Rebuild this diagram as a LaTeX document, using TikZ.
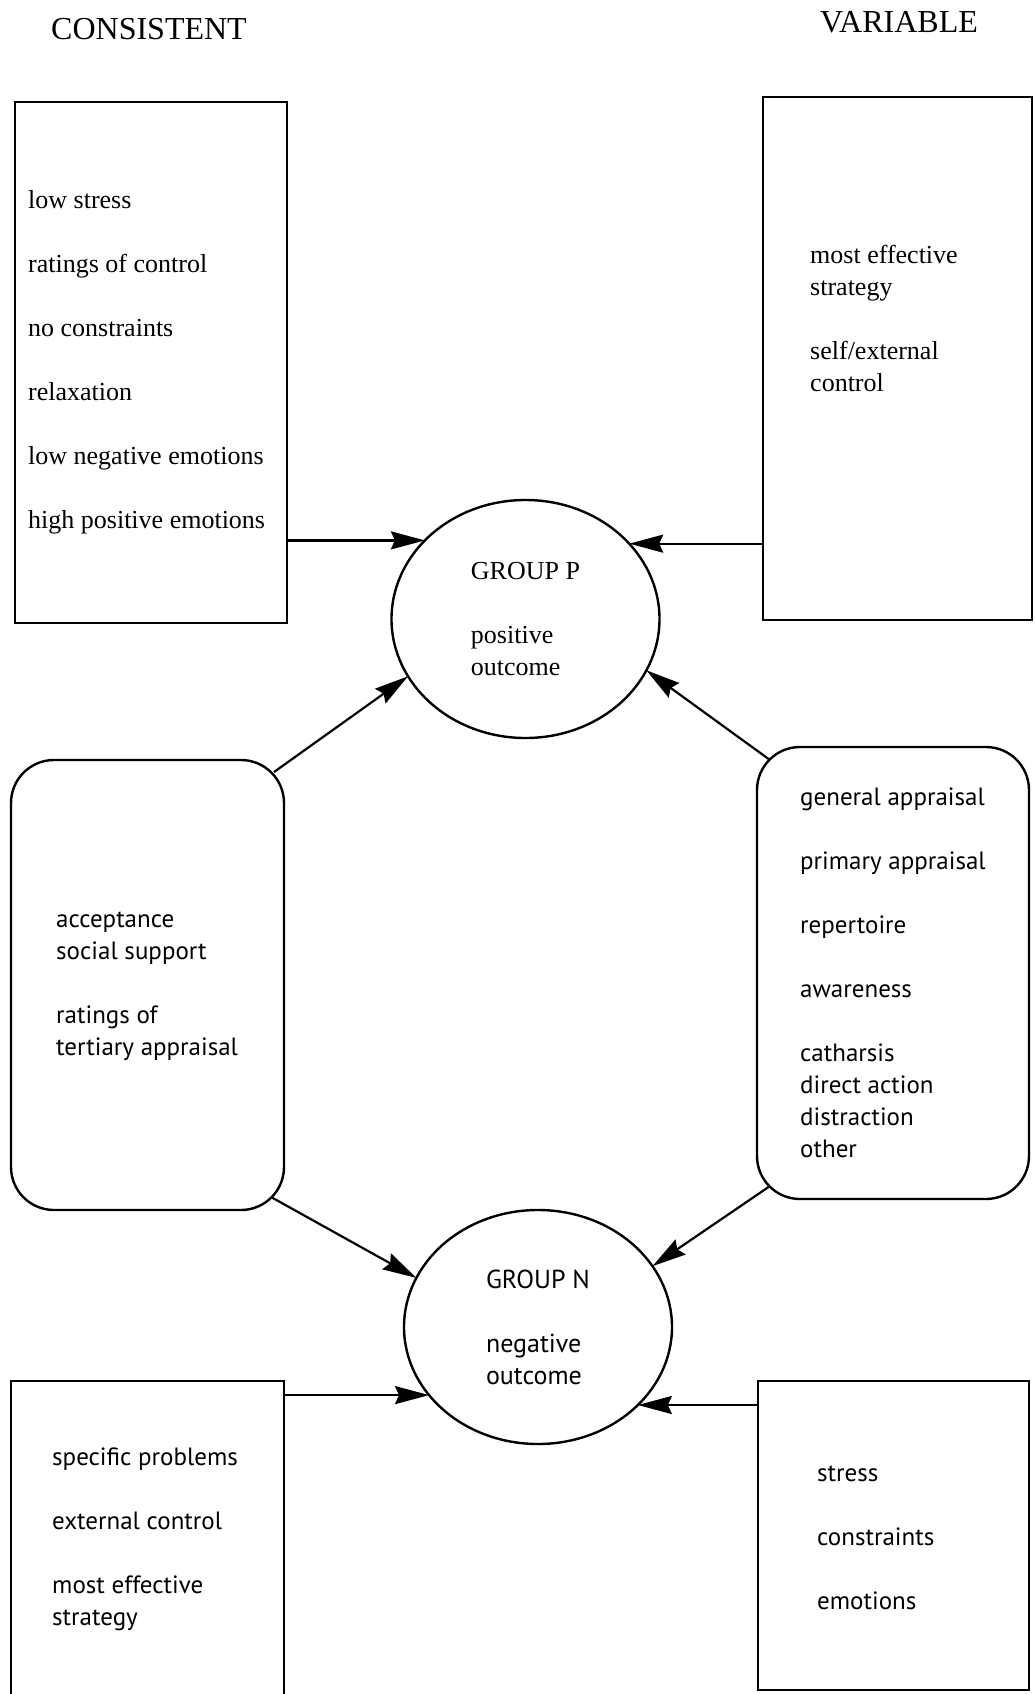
\documentclass[tikz,border=0pt]{standalone}
\usepackage{fontspec}
\setmainfont{Liberation Serif}
\newfontfamily\optfont{PT Sans}
\usetikzlibrary{arrows.meta, calc, shapes.geometric}

\tikzset{
  plainbox/.style={draw, rectangle, line width=2.4pt, inner sep=0pt, outer sep=0pt},
  roundbox/.style={plainbox, rounded corners=43pt},
  groupnode/.style={draw, ellipse, line width=2.4pt, inner sep=0pt, outer sep=0pt,
    minimum width=268pt, align=left},
  serifitems/.style={anchor=west, align=left, inner sep=0pt, font=\fontsize{26}{32}\selectfont},
  sansitems/.style={anchor=west, align=left, inner sep=0pt, font=\optfont\fontsize{25}{32}\selectfont},
  heading/.style={inner sep=0pt, font=\fontsize{32}{38}\selectfont},
  link/.style={line width=2.2pt, -{Stealth[length=34pt, width=18pt, inset=4pt]}}
}

\begin{document}
\begin{tikzpicture}[x=1pt, y=-1pt]
  \useasboundingbox (0,0) rectangle (1035,1694);
  \clip (0,0) rectangle (1035,1694);

  % Column headings
  \node[heading] (consistent) at (149,29) {CONSISTENT};
  \node[heading] (variable) at (899,22) {VARIABLE};

  % Outcome groups
  \node[groupnode, minimum height=238pt, font=\fontsize{26}{32}\selectfont] (grpP) at (525.5,619)
    {GROUP P\\[32pt]positive\\outcome};
  \node[groupnode, minimum height=234pt, font=\optfont\fontsize{26}{32}\selectfont] (grpN) at (538,1327)
    {GROUP N\\[32pt]negative\\outcome};

  % Boxes
  \node[plainbox, minimum width=272pt, minimum height=521pt] (tlbox) at (151,362.5) {};
  \node[plainbox, minimum width=269pt, minimum height=523pt] (trbox) at (897.5,358.5) {};
  \node[roundbox, minimum width=273pt, minimum height=450pt] (mlbox) at (147.5,985) {};
  \node[roundbox, minimum width=272pt, minimum height=452pt] (mrbox) at (893,973) {};
  \node[plainbox, minimum width=273pt, minimum height=400pt] (blbox) at (147.5,1581) {};
  \node[plainbox, minimum width=271pt, minimum height=309pt] (brbox) at (893.5,1535.5) {};

  % Box contents
  \node[serifitems] (tlitems) at (28,362)
    {low stress\\[32pt]ratings of control\\[32pt]no constraints\\[32pt]relaxation\\[32pt]low negative emotions\\[32pt]high positive emotions};
  \node[serifitems] (tritems) at (810,318.5)
    {most effective\\strategy\\[32pt]self/external\\control};
  \node[sansitems] (mlitems) at (56,986)
    {acceptance\\social support\\[32pt]ratings of\\tertiary appraisal};
  \node[sansitems] (mritems) at (800,972.5)
    {general appraisal\\[32pt]primary appraisal\\[32pt]repertoire\\[32pt]awareness\\[32pt]catharsis\\direct action\\distraction\\other};
  \node[sansitems] (blitems) at (52,1539.5)
    {specific problems\\[32pt]external control\\[32pt]most effective\\strategy};
  \node[sansitems] (britems) at (817,1537.5)
    {stress\\[32pt]constraints\\[32pt]emotions};

  % Arrows into the groups
  \draw[link] (tlbox.east |- grpP.142) -- (grpP.142);
  \draw[link] (trbox.west |- grpP.36) -- (grpP.36);
  \draw[link] ($(mlbox.north east)+(-10,12)$) -- (grpP.206);
  \draw[link] ($(mrbox.north west)+(13,13)$) -- (grpP.337);
  \draw[link] ($(mlbox.south east)+(-13,-13)$) -- (grpN.158);
  \draw[link] ($(mrbox.south west)+(13,-13)$) -- (grpN.28);
  \draw[link] (blbox.east |- grpN.212) -- (grpN.212);
  \draw[link] (brbox.west |- grpN.322) -- (grpN.322);
\end{tikzpicture}
\end{document}
